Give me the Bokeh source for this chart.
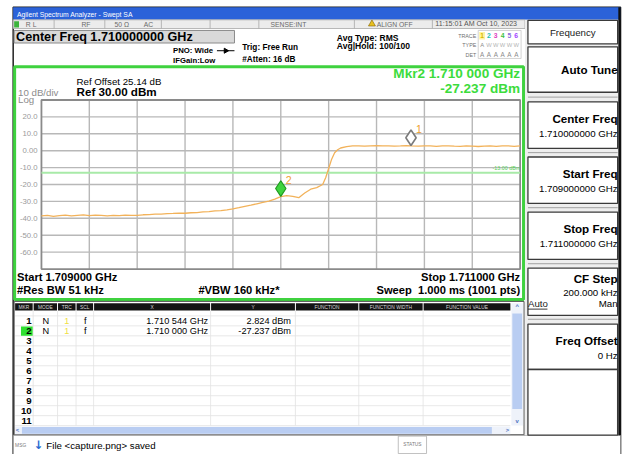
import math
from bokeh.plotting import figure
from bokeh.models import Range1d
from bokeh.embed import file_html
from bokeh.resources import INLINE
from bokeh.core.properties import value

# ---------------- data ----------------
start_ghz = 1.709
stop_ghz = 1.711
ref_level_dbm = 30.0
db_per_div = 10.0
n_div = 10
display_line_dbm = -13.0

offset_khz = [0, 25, 50, 75, 100, 125, 150, 175, 200, 225,
              250, 275, 300, 325, 350, 375, 400, 425, 450, 475,
              500, 525, 550, 575, 600, 625, 650, 675, 700, 725,
              750, 775, 800, 825, 850, 875, 900, 925, 950, 975,
              1000, 1025, 1050, 1075, 1100, 1125, 1150, 1175,
              1187.5, 1200, 1212.5, 1225, 1237.5, 1250,
              1275, 1300, 1325, 1350, 1375, 1400, 1425, 1450, 1475, 1500, 1525,
              1544,
              1575, 1600, 1625, 1650, 1675, 1700, 1725, 1750, 1775, 1800,
              1825, 1850, 1875, 1900, 1925, 1950, 1975, 2000]
level_dbm = [-38.6, -38.3, -38.9, -38.4, -38.1, -38.5, -38.2, -38.0, -38.4, -38.1,
             -38.3, -38.5, -38.2, -38.4, -38.1, -38.3, -38.2, -37.9, -37.8, -37.5,
             -37.5, -37.2, -37.1, -36.9, -37.0, -36.7, -36.6, -36.2, -36.0, -35.6,
             -35.5, -35.0, -34.4, -33.7, -32.9, -32.2, -31.4, -30.6, -29.8, -28.7,
             -27.2, -26.6, -27.0, -27.8, -25.0, -22.8, -21.8, -20.0,
             -16.0, -10.5, -5.0, -1.2, 0.6, 1.6,
             2.4, 2.8, 2.9, 2.7, 2.9, 3.0, 2.8, 2.9, 2.7, 2.8, 3.0,
             2.8,
             2.7, 2.9, 2.8, 2.6, 2.8, 2.9, 2.7, 2.6, 2.8, 2.7,
             2.5, 2.7, 2.8, 2.6, 2.8, 2.9, 2.6, 2.8]
assert len(offset_khz) == len(level_dbm)
trace_ghz = [start_ghz + k / 1e6 for k in offset_khz]

ytick_values = [20, 10, 0, -10, -20, -30, -40, -50, -60]
ytick_labels = ["20.0", "10.0", "0.00", "-10.0", "-20.0", "-30.0", "-40.0", "-50.0", "-60.0"]

marker_ids = ["1", "2"]
marker_freq_ghz = [1.710544, 1.710000]
marker_dbm = [2.824, -27.237]
marker_x_text = ["1.710 544 GHz", "1.710 000 GHz"]
marker_y_text = ["2.824 dBm", "-27.237 dBm"]

table_headers = ["MKR", "MODE", "TRC", "SCL", "X", "Y", "FUNCTION", "FUNCTION WIDTH", "FUNCTION VALUE"]
table_rows = list(range(1, 12))

softkeys = [("Auto Tune", ""), ("Center Freq", "1.710000000 GHz"),
            ("Start Freq", "1.709000000 GHz"), ("Stop Freq", "1.711000000 GHz")]

# ---------------- figure ----------------
W, H = 622, 454
RW, RH = 638, 470
FS = 0.97
FONT = "Liberation Sans"

p = figure(width=W, height=H, x_range=Range1d(0, RW), y_range=Range1d(RH, 0),
           x_axis_type=None, y_axis_type=None, output_backend="svg",
           toolbar_location=None, min_border=0)
p.outline_line_color = None
p.background_fill_color = "white"
p.border_fill_color = "white"

# grid geometry (reference pixels) -> ranges for frequency / level
GX0, GX1, GY0, GY1 = 42.0, 533.0, 103.0, 278.0
kx = (stop_ghz - start_ghz) / (GX1 - GX0)
ky = (n_div * db_per_div) / (GY1 - GY0)
bottom_dbm = ref_level_dbm - n_div * db_per_div
p.extra_x_ranges = {"f": Range1d(start_ghz - GX0 * kx, start_ghz + (RW - GX0) * kx)}
p.extra_y_ranges = {"d": Range1d(ref_level_dbm - (RH - GY0) * ky, ref_level_dbm + GY0 * ky)}
FD = dict(x_range_name="f", y_range_name="d")


def box(l, r, t, b, fill, line=None, lw=1.0, **kw):
    p.quad(left=[l], right=[r], top=[t], bottom=[b], fill_color=fill,
           line_color=line, line_width=lw, **kw)


def seg(x0, y0, x1, y1, color, lw=1.0, **kw):
    p.segment(x0=[x0], y0=[y0], x1=[x1], y1=[y1], line_color=color, line_width=lw, **kw)


def txt(x, y, s, size, color="#000000", bold=False, align="left", font=FONT, **kw):
    p.text(x=[x], y=[y], text=[s], text_font=value(font),
           text_font_size=f"{size * FS:.2f}px", text_color=color,
           text_font_style="bold" if bold else "normal",
           text_align=align, text_baseline="middle", **kw)


# ---------- screen frame ----------
box(13, 636, 7, 470, "white", "#202020", 1.5)
box(13, 636, 7, 20, "#2b62d9", None)
txt(17, 14, "Agilent Spectrum Analyzer - Swept SA", 7, "white")

# status row
box(13, 538, 20, 29, "#ececec", "#a8a8a8", 0.8)
for sx in [55, 107, 165, 215, 265, 363, 443]:
    seg(sx, 20, sx, 29, "#a8a8a8", 0.8)
box(14, 19, 21.5, 28, "#3cb43c", None)
st_c = "#6a6a6a"
txt(26, 24.8, "R L", 7, st_c)
txt(83, 24.8, "RF", 7, st_c)
txt(117, 24.8, "50 Ω", 7, st_c)
txt(147, 24.8, "AC", 7, st_c)
txt(277, 24.8, "SENSE:INT", 7, st_c)
p.scatter(x=[381], y=[24.3], marker="triangle", size=7, fill_color="#e8c020",
          line_color="#806000", line_width=0.6)
txt(386, 24.8, "ALIGN OFF", 7, st_c)
txt(446, 24.8, "11:15:01 AM Oct 10, 2023", 7.3, "#555555")

# header
box(14, 240, 31, 44, "#d9d9d9", "#8a8a8a", 1)
txt(16, 38, "Center Freq 1.710000000 GHz", 13, bold=True)
txt(218, 52, "PNO: Wide", 8, bold=True, align="right")
seg(222, 52, 240, 52, "#000000", 1)
p.scatter(x=[231], y=[52], marker="triangle", size=5, angle=-math.pi / 2,
          fill_color="black", line_color="black")
txt(177, 62, "IFGain:Low", 8, bold=True)
txt(248, 49, "Trig: Free Run", 8.5, bold=True)
txt(248, 61.5, "#Atten: 16 dB", 8.5, bold=True)
txt(345, 38.5, "Avg Type: RMS", 8.8, bold=True)
txt(345, 47.5, "Avg|Hold: 100/100", 8.8, bold=True)

txt(488, 36.5, "TRACE", 5.5, "#707070", align="right")
txt(488, 46.5, "TYPE", 5.5, "#707070", align="right")
txt(488, 56, "DET", 5.5, "#707070", align="right")
box(490, 534, 31, 60, None, "#c8c8c8", 0.8)
box(491, 497, 32.5, 40.5, "#fff4a0", None)
trace_cols = ["#d8b800", "#20c0b0", "#e040c0", "#40c040", "#8a6ae0", "#a040ff"]
for i, c in enumerate(trace_cols):
    txt(494 + 7 * i, 36.5, str(i + 1), 7, c, bold=True, align="center")
    txt(494 + 7 * i, 46.5, "A" if i == 0 else "W", 6, "#8a8a8a" if i == 0 else "#b4b4b4", align="center")
    txt(494 + 7 * i, 56, "A", 6.5, "#8a8a8a", align="center")

# ---------- graph window ----------
box(14.5, 536.5, 68.5, 309.5, "white", "#3fd23f", 3)
txt(78, 84, "Ref Offset 25.14 dB", 10)
txt(78, 94.5, "Ref 30.00 dBm", 12, bold=True)
txt(18, 95.5, "10 dB/div", 10, "#8c8c8c")
txt(18, 103, "Log", 10, "#8c8c8c")
mk_green = "#3cdc3c"
txt(533, 75.5, "Mkr2 1.710 000 GHz", 14, mk_green, bold=True, align="right")
txt(533, 91.5, "-27.237 dBm", 14, mk_green, bold=True, align="right")

span = stop_ghz - start_ghz
for i in range(1, n_div):
    fx = start_ghz + i * span / n_div
    seg(fx, bottom_dbm, fx, ref_level_dbm, "#b8b8b8", 1.4, **FD)
    ly = ref_level_dbm - i * db_per_div
    seg(start_ghz, ly, stop_ghz, ly, "#b8b8b8", 1.4, **FD)
p.quad(left=[start_ghz], right=[stop_ghz], top=[ref_level_dbm], bottom=[bottom_dbm],
       fill_color=None, line_color="#8a8a8a", line_width=1.8, **FD)

p.text(x=[38] * len(ytick_values), y=ytick_values, text=ytick_labels, y_range_name="d",
       text_font=value(FONT), text_font_size=f"{8 * FS:.2f}px", text_color="#9a9a9a",
       text_align="right", text_baseline="middle")

seg(start_ghz, display_line_dbm, stop_ghz, display_line_dbm, "#a8eaa8", 2, **FD)
txt(stop_ghz, display_line_dbm, "-13.00 dBm", 5.5, "#55d055", align="right", y_offset=-5, **FD)

p.line(trace_ghz, level_dbm, line_color="#f2b25a", line_width=1.3, **FD)

mk_center = [v + 8.5 * ky for v in marker_dbm]
p.scatter(x=[marker_freq_ghz[0]], y=[mk_center[0]], marker="diamond", size=16 * FS,
          fill_color="white", line_color="#7a7a7a", line_width=1.6, **FD)
p.scatter(x=[marker_freq_ghz[1]], y=[mk_center[1]], marker="diamond", size=16 * FS,
          fill_color="#3ed43e", line_color="#1f9a1f", line_width=1.2, **FD)
for mid, mf, mc in zip(marker_ids, marker_freq_ghz, mk_center):
    txt(mf, mc, mid, 11, "#f0a030", x_offset=5, y_offset=-9, **FD)

txt(17, 286.7, "Start 1.709000 GHz", 11.5, bold=True)
txt(17, 299.3, "#Res BW 51 kHz", 11.5, bold=True)
txt(203, 299.3, "#VBW 160 kHz*", 11.5, bold=True)
txt(533, 286.7, "Stop 1.711000 GHz", 11.5, bold=True, align="right")
txt(533, 299.3, "Sweep\u00a0\u00a01.000 ms (1001 pts)", 11.5, bold=True, align="right")

# ---------- marker table ----------
box(14, 537, 311.5, 449.5, "white", "#505050", 1)
cols = [(15, 33), (34, 58), (59, 77), (78, 95), (96, 215), (216, 302), (303, 367), (368, 433), (434, 523)]
for (l, r), h in zip(cols, table_headers):
    box(l, r, 313.5, 321, "#141414", None)
    txt((l + r) / 2, 317.4, h, 5, "#d8d8d8", align="center")
row_h = 10.33
for k in range(12):
    yy = 326.5 + k * row_h
    seg(15, yy, 523, yy, "#e2e2e2", 0.8)
for (l, r) in cols[:-1]:
    seg(r + 0.5, 321, r + 0.5, 440, "#e2e2e2", 0.8)
box(21, 33, 337.5, 347, "#30e030", None)
for n in table_rows:
    yy = 331.7 + (n - 1) * row_h
    txt(32, yy, str(n), 10, bold=True, align="right")
for i in range(len(marker_ids)):
    yy = 331.7 + i * row_h
    txt(46.5, yy, "N", 9.5, align="center")
    txt(68, yy, "1", 9.5, "#f0e040", align="center")
    txt(87, yy, "f", 9.5, align="center")
    txt(213, yy, marker_x_text[i], 9.5, align="right")
    txt(298, yy, marker_y_text[i], 9.5, align="right")
# scrollbars
box(524, 536, 313.5, 440, "#eef2fa", None)
box(525, 535, 324, 423, "#b9cdf2", None)
txt(530, 316.5, "^", 6, "#4a70c0", bold=True, align="center")
txt(530, 435, "v", 6, "#4a70c0", bold=True, align="center")
box(15, 523, 441, 449, "#eef2fa", None)
box(22, 504, 441.5, 448.5, "#b9cdf2", None)
txt(17.5, 445, "<", 6, "#4a70c0", bold=True, align="center")
txt(520, 445, ">", 6, "#4a70c0", bold=True, align="center")

# ---------- message bar ----------
box(13, 636, 450, 470, "white", "#8a8a8a", 1)
txt(15, 461, "MSG", 5, "#7a7a7a")
txt(39, 460.5, "↓", 12, "#2a6ad0", bold=True, align="center", font="DejaVu Sans")
txt(47, 461, "File <capture.png> saved", 10)
box(408, 437, 451, 469, "white", "#b0b0b0", 0.8)
txt(422.5, 460, "STATUS", 5, "#7a7a7a", align="center")

# ---------- softkey panel ----------
box(538, 634, 20, 450, "#eeeeee", None)
box(541, 633, 20.5, 45, "white", "#3a3a3a", 1.3)
txt(587, 33.5, "Frequency", 10, "#222222", align="center")
key_boxes = [(48, 95), (105, 153), (162, 210), (219, 268)]
for (t, b), (name, val) in zip(key_boxes, softkeys):
    box(541, 633, t, b, "white", "#3a3a3a", 1.3)
    if val:
        txt(633, t + 17, name, 12, bold=True, align="right")
        txt(633, t + 33, val, 10, align="right")
    else:
        txt(633, (t + b) / 2, name, 12, bold=True, align="right")
for sy in [100, 157.5, 214.5, 272.5, 330]:
    seg(541, sy, 633, sy, "#a0a0a0", 1)
box(541, 633, 277, 326, "white", "#3a3a3a", 1.3)
txt(633, 288, "CF Step", 12, bold=True, align="right")
txt(633, 302, "200.000 kHz", 10, align="right")
txt(541, 314, "Auto", 10, "#222222")
seg(541, 319.5, 561, 319.5, "#222222", 0.9)
txt(633, 314, "Man", 10, align="right")
box(541, 633, 335, 382, "white", "#3a3a3a", 1.3)
txt(633, 352, "Freq Offset", 12, bold=True, align="right")
txt(633, 367, "0 Hz", 10, align="right")
box(541, 633, 382, 450, "white", "#3a3a3a", 1.3)
seg(635, 7, 635, 450, "#101010", 2.5)

open("out.html", "w").write(file_html(p, INLINE))
